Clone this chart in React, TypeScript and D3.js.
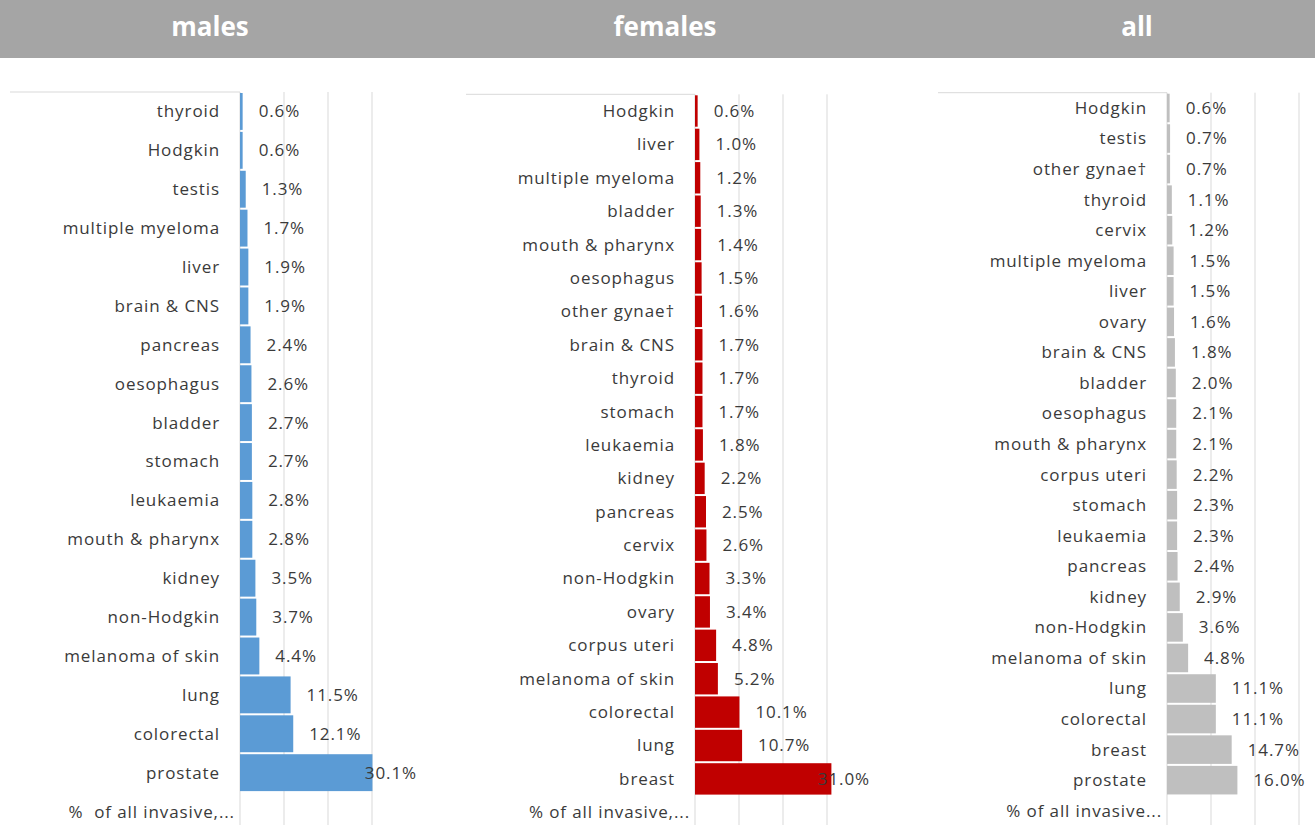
import React from "react";
import * as d3 from "d3";

const maleCategories = [
  "thyroid", "Hodgkin", "testis", "multiple myeloma", "liver", "brain & CNS",
  "pancreas", "oesophagus", "bladder", "stomach", "leukaemia", "mouth & pharynx",
  "kidney", "non-Hodgkin", "melanoma of skin", "lung", "colorectal", "prostate",
  "%\u00a0 of all invasive,...",
];
const maleValues = [
  0.6, 0.6, 1.3, 1.7, 1.9, 1.9, 2.4, 2.6, 2.7, 2.7, 2.8, 2.8, 3.5, 3.7, 4.4,
  11.5, 12.1, 30.1, null,
];

const femaleCategories = [
  "Hodgkin", "liver", "multiple myeloma", "bladder", "mouth & pharynx",
  "oesophagus", "other gynae\u2020", "brain & CNS", "thyroid", "stomach",
  "leukaemia", "kidney", "pancreas", "cervix", "non-Hodgkin", "ovary",
  "corpus uteri", "melanoma of skin", "colorectal", "lung", "breast",
  "% of all invasive,...",
];
const femaleValues = [
  0.6, 1.0, 1.2, 1.3, 1.4, 1.5, 1.6, 1.7, 1.7, 1.7, 1.8, 2.2, 2.5, 2.6, 3.3,
  3.4, 4.8, 5.2, 10.1, 10.7, 31.0, null,
];

const allCategories = [
  "Hodgkin", "testis", "other gynae\u2020", "thyroid", "cervix",
  "multiple myeloma", "liver", "ovary", "brain & CNS", "bladder", "oesophagus",
  "mouth & pharynx", "corpus uteri", "stomach", "leukaemia", "pancreas",
  "kidney", "non-Hodgkin", "melanoma of skin", "lung", "colorectal", "breast",
  "prostate", "% of all invasive...",
];
const allValues = [
  0.6, 0.7, 0.7, 1.1, 1.2, 1.5, 1.5, 1.6, 1.8, 2.0, 2.1, 2.1, 2.2, 2.3, 2.3,
  2.4, 2.9, 3.6, 4.8, 11.1, 11.1, 14.7, 16.0, null,
];

const gridTicks = [10, 20, 30];
const titles = ["males", "females", "all"];

const W = 1315;
const H = 825;
const FONT = "'Open Sans', 'Liberation Sans', sans-serif";
const TEXT = "#3a3a3a";
const GRID = "#d9d9d9";
const LS = 0.9;

type Panel = {
  title: string;
  titleX: number;
  cats: string[];
  vals: (number | null)[];
  color: string;
  x0: number;
  borderLeft: number;
  top: number;
  bottom: number;
  limit: number;
};

const panels: Panel[] = [
  { title: titles[0], titleX: 210, cats: maleCategories, vals: maleValues, color: "#5b9bd5", x0: 240, borderLeft: 10, top: 92, bottom: 831, limit: 417 },
  { title: titles[1], titleX: 665, cats: femaleCategories, vals: femaleValues, color: "#c00000", x0: 695, borderLeft: 466, top: 94.3, bottom: 829, limit: 870 },
  { title: titles[2], titleX: 1137, cats: allCategories, vals: allValues, color: "#bfbfbf", x0: 1167, borderLeft: 938, top: 92.7, bottom: 826, limit: 1315 },
];

const PX_PER_PCT = 4.4;

function PanelView({ p }: { p: Panel }) {
  const x = d3.scaleLinear().domain([0, 35]).range([p.x0, p.x0 + 35 * PX_PER_PCT]);
  const y = d3.scaleBand<string>().domain(p.cats).range([p.top, p.bottom]).padding(0);
  const bw = y.bandwidth();
  return (
    <g>
      <text x={p.titleX} y={36} textAnchor="middle" fill="#ffffff" fontSize={26} fontWeight="bold" fontFamily={FONT}>
        {p.title}
      </text>
      {gridTicks.map((t) => (
        <line key={t} x1={x(t)} x2={x(t)} y1={p.top} y2={H} stroke={GRID} strokeWidth={1} />
      ))}
      <line x1={p.borderLeft} x2={p.x0} y1={p.top} y2={p.top} stroke={GRID} strokeWidth={1} />
      <line x1={p.x0} x2={p.x0} y1={p.top} y2={H} stroke={GRID} strokeWidth={1} />
      {p.cats.map((c, i) => {
        const v = p.vals[i];
        const yy = (y(c) as number);
        const cy = yy + bw / 2;
        const labelX = v == null ? p.x0 - 5 : p.x0 - 20;
        const label = (
          <text key={"l" + c} x={labelX} y={cy} dy="0.35em" textAnchor="end" fill={TEXT} fontSize={17} letterSpacing={LS} fontFamily={FONT}>
            {c}
          </text>
        );
        if (v == null) return label;
        const xe = x(v);
        const txt = v.toFixed(1) + "%";
        const estW = txt.length * 11;
        let lx = xe + 16;
        let anchor = "start";
        if (lx + estW > p.limit) {
          lx = p.limit;
          anchor = "end";
        }
        return (
          <g key={c}>
            {label}
            <rect x={p.x0} y={yy + 1} width={Math.max(0, xe - p.x0)} height={bw - 2} fill={p.color} />
            <text x={lx} y={cy} dy="0.35em" textAnchor={anchor} fill={TEXT} fontSize={17} letterSpacing={LS} fontFamily={FONT}>
              {txt}
            </text>
          </g>
        );
      })}
    </g>
  );
}

export default function App() {
  return (
    <div style={{ position: "fixed", left: 0, top: 0 }}>
      <svg width={W} height={H} style={{ display: "block", background: "#ffffff" }}>
        <rect x={0} y={0} width={W} height={58} fill="#a5a5a5" />
        {panels.map((p) => (
          <PanelView key={p.title} p={p} />
        ))}
      </svg>
    </div>
  );
}
